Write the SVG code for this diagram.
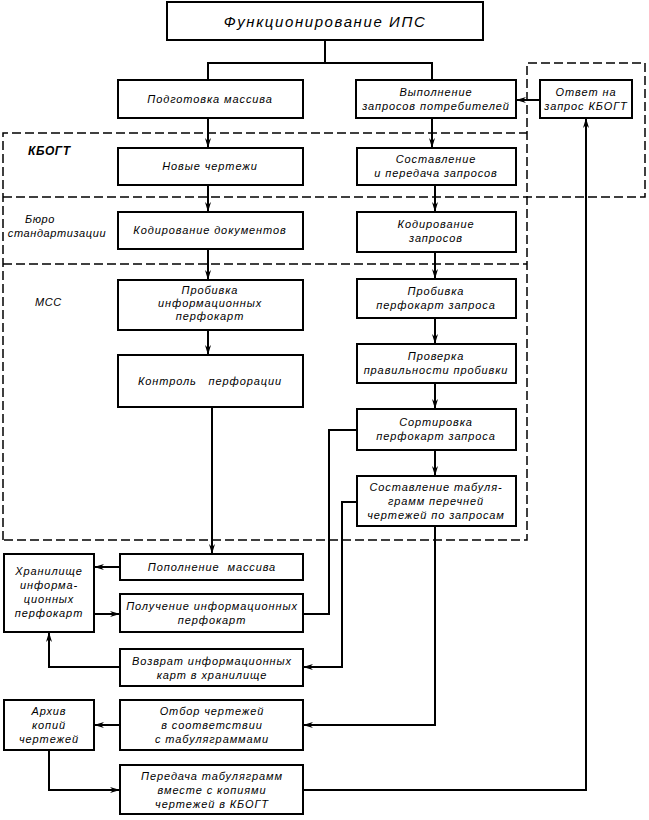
<svg xmlns="http://www.w3.org/2000/svg" width="649" height="820" viewBox="0 0 649 820">
<style>
.b{fill:#fff;stroke:#000;stroke-width:2}
.t{font-family:"Liberation Sans",Arial,sans-serif;font-style:italic;font-size:11px;letter-spacing:0.9px;text-anchor:middle;fill:#000}
.lbl{font-family:"Liberation Sans",Arial,sans-serif;font-style:italic;font-size:11px;letter-spacing:0.6px;fill:#000}
.c{fill:none;stroke:#000;stroke-width:2}
.d{fill:none;stroke:#000;stroke-width:1.5;stroke-dasharray:9,4}
</style>
<defs>
<marker id="a" viewBox="0 0 10 6" refX="10" refY="3" markerWidth="10" markerHeight="6" markerUnits="userSpaceOnUse" orient="auto">
<path d="M0,0 L10,3 L0,6 L3,3 z" fill="#000"/>
</marker>
</defs>
<rect width="649" height="820" fill="#fff"/>
<g id="regions">
<path class="d" d="M3,540 V133 H527"/>
<path class="d" d="M3,197 H645 V63 H527 V540 H3"/>
<path class="d" d="M3,264 H527"/>
<text class="lbl" x="28" y="155" style="font-weight:bold;font-size:12px">КБОГТ</text>
<text class="lbl" x="40" y="223" style="text-anchor:middle">Бюро</text>
<text class="lbl" x="57" y="237" style="text-anchor:middle">стандартизации</text>
<text class="lbl" x="35" y="306">МСС</text>
</g>
<g id="connectors">
<path class="c" d="M325,40 V63 M208,80 V63 H432 V80"/>
<path class="c" marker-end="url(#a)" d="M208,118 V148"/>
<path class="c" marker-end="url(#a)" d="M208,185 V212"/>
<path class="c" marker-end="url(#a)" d="M208,249 V280"/>
<path class="c" marker-end="url(#a)" d="M208,330 V355"/>
<path class="c" marker-end="url(#a)" d="M212,407 V554"/>
<path class="c" marker-end="url(#a)" d="M432,118 V148"/>
<path class="c" marker-end="url(#a)" d="M435,185 V212"/>
<path class="c" marker-end="url(#a)" d="M435,252 V279"/>
<path class="c" marker-end="url(#a)" d="M435,318 V344"/>
<path class="c" marker-end="url(#a)" d="M435,383 V409"/>
<path class="c" marker-end="url(#a)" d="M435,450 V476"/>
<path class="c" marker-end="url(#a)" d="M435,526 V725 H303"/>
<path class="c" marker-end="url(#a)" d="M540,100 H516"/>
<path class="c" marker-end="url(#a)" d="M303,790 H586 V118"/>
<path class="c" marker-end="url(#a)" d="M49,750 V790 H120"/>
<path class="c" marker-end="url(#a)" d="M120,725 H94"/>
<path class="c" marker-end="url(#a)" d="M120,567 H94"/>
<path class="c" marker-end="url(#a)" d="M94,614 H120"/>
<path class="c" d="M303,614 H329 V430 H357"/>
<path class="c" marker-end="url(#a)" d="M357,502 H342 V667 H303"/>
<path class="c" marker-end="url(#a)" d="M120,667 H49 V632"/>
</g>
<g id="n1"><rect class="b" x="167" y="2" width="316" height="38"/><text class="t" x="325" y="27" style="font-size:15px;letter-spacing:1.6px">Функционирование ИПС</text></g>
<g id="n2"><rect class="b" x="118" y="80" width="185" height="38"/><text class="t" x="210" y="103">Подготовка массива</text></g>
<g id="n3"><rect class="b" x="356" y="80" width="160" height="38"/><text class="t" x="436" y="96">Выполнение</text><text class="t" x="436" y="110">запросов потребителей</text></g>
<g id="n4"><rect class="b" x="540" y="80" width="92" height="38"/><text class="t" x="586" y="96">Ответ на</text><text class="t" x="586" y="110">запрос КБОГТ</text></g>
<g id="n5"><rect class="b" x="118" y="148" width="185" height="37"/><text class="t" x="210" y="170">Новые чертежи</text></g>
<g id="n6"><rect class="b" x="357" y="148" width="159" height="37"/><text class="t" x="436" y="163">Составление</text><text class="t" x="436" y="177">и передача запросов</text></g>
<g id="n7"><rect class="b" x="118" y="212" width="185" height="37"/><text class="t" x="210" y="234">Кодирование документов</text></g>
<g id="n8"><rect class="b" x="357" y="212" width="159" height="40"/><text class="t" x="436" y="228">Кодирование</text><text class="t" x="436" y="242">запросов</text></g>
<g id="n9"><rect class="b" x="118" y="280" width="185" height="50"/><text class="t" x="210" y="294">Пробивка</text><text class="t" x="210" y="307">информационных</text><text class="t" x="210" y="320">перфокарт</text></g>
<g id="n10"><rect class="b" x="357" y="279" width="159" height="39"/><text class="t" x="436" y="295">Пробивка</text><text class="t" x="436" y="309">перфокарт запроса</text></g>
<g id="n11"><rect class="b" x="118" y="355" width="185" height="52"/><text class="t" x="210" y="385" xml:space="preserve">Контроль   перфорации</text></g>
<g id="n12"><rect class="b" x="357" y="344" width="159" height="39"/><text class="t" x="436" y="360">Проверка</text><text class="t" x="436" y="374">правильности пробивки</text></g>
<g id="n13"><rect class="b" x="357" y="409" width="159" height="41"/><text class="t" x="436" y="426">Сортировка</text><text class="t" x="436" y="440">перфокарт запроса</text></g>
<g id="n14"><rect class="b" x="357" y="476" width="159" height="50"/><text class="t" x="436" y="491">Составление табуля-</text><text class="t" x="436" y="505">грамм перечней</text><text class="t" x="436" y="519">чертежей по запросам</text></g>
<g id="n15"><rect class="b" x="120" y="554" width="183" height="26"/><text class="t" x="212" y="571" xml:space="preserve">Пополнение  массива</text></g>
<g id="n16"><rect class="b" x="4" y="554" width="90" height="78"/><text class="t" x="49" y="575">Хранилище</text><text class="t" x="49" y="589">информа-</text><text class="t" x="49" y="603">ционных</text><text class="t" x="49" y="617">перфокарт</text></g>
<g id="n17"><rect class="b" x="120" y="594" width="183" height="38"/><text class="t" x="212" y="610">Получение информационных</text><text class="t" x="212" y="624">перфокарт</text></g>
<g id="n18"><rect class="b" x="120" y="649" width="183" height="37"/><text class="t" x="212" y="665">Возврат информационных</text><text class="t" x="212" y="679">карт в хранилище</text></g>
<g id="n19"><rect class="b" x="4" y="700" width="90" height="50"/><text class="t" x="49" y="715">Архив</text><text class="t" x="49" y="729">копий</text><text class="t" x="49" y="743">чертежей</text></g>
<g id="n20"><rect class="b" x="120" y="700" width="183" height="50"/><text class="t" x="212" y="715">Отбор чертежей</text><text class="t" x="212" y="729">в соответствии</text><text class="t" x="212" y="743">с табуляграммами</text></g>
<g id="n21"><rect class="b" x="120" y="765" width="183" height="49"/><text class="t" x="212" y="780">Передача табуляграмм</text><text class="t" x="212" y="794">вместе с копиями</text><text class="t" x="212" y="808">чертежей в КБОГТ</text></g>
</svg>
